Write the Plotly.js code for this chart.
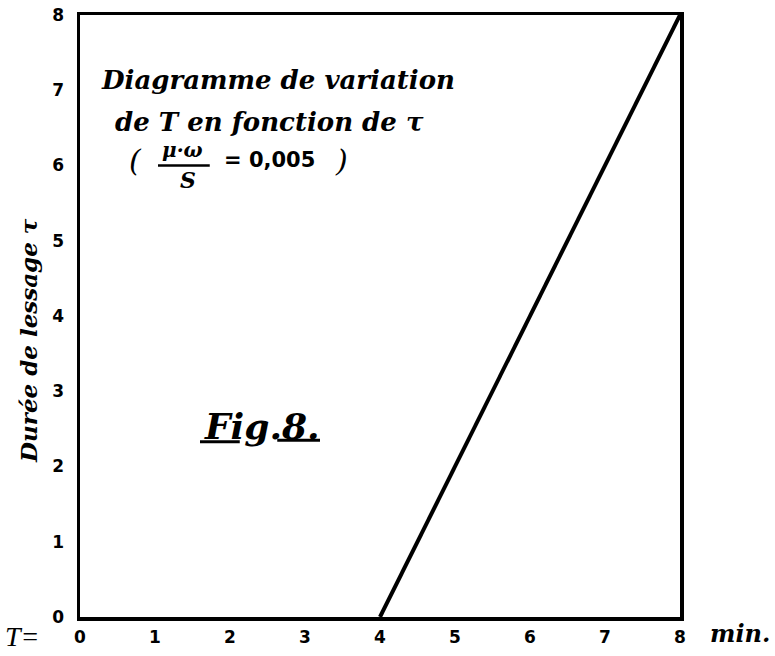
<!DOCTYPE html>
<html>
<head>
<meta charset="utf-8">
<script src="https://cdn.plot.ly/plotly-3.0.1.min.js"></script>
<style>
  html, body { margin: 0; padding: 0; background: #fff; }
  #chart { width: 775px; height: 656px; }
</style>
</head>
<body>
<div id="chart"></div>
<script>
// Washing time tau (vertical) against cycle time T (horizontal), mu*omega/S = 0.005
const tauValues = [0, 8];      // Durée de lessage τ
const TValues = [4, 8];        // T (min)
const tickVals = [0, 1, 2, 3, 4, 5, 6, 7, 8];
const tickText = ['0', '1', '2', '3', '4', '5', '6', '7', '8'];

const hand = { family: 'DejaVu Serif', color: '#000', style: 'italic', weight: 'bold' };
const font = (size, extra) => Object.assign({}, hand, { size: size }, extra || {});

const trace = {
  x: TValues,
  y: tauValues,
  mode: 'lines',
  line: { color: '#000', width: 4 },
  hoverinfo: 'skip',
  showlegend: false
};

const axisBase = {
  range: [0, 8],
  tickvals: tickVals,
  ticktext: tickText,
  showgrid: false,
  zeroline: false,
  showline: true,
  mirror: true,
  linecolor: '#000',
  linewidth: 3.5,
  ticks: '',
  tickfont: { family: 'DejaVu Sans', size: 17, color: '#000', weight: 'bold' },
  fixedrange: true
};

const ann = (x, y, text, f, extra) => Object.assign({
  x: x, y: y, xref: 'x', yref: 'y', text: text, showarrow: false,
  font: f, xanchor: 'center', yanchor: 'middle'
}, extra || {});

const layout = {
  width: 775,
  height: 656,
  margin: { l: 80, r: 95, t: 15, b: 39 },
  paper_bgcolor: '#fff',
  plot_bgcolor: '#fff',
  xaxis: Object.assign({}, axisBase, { ticklabelstandoff: 2 }),
  yaxis: Object.assign({}, axisBase, { ticklabelstandoff: 9 }),
  annotations: [
    ann(2.64, 7.14, 'Diagramme de variation', font(26)),
    ann(2.53, 6.58, 'de T en fonction de τ', font(26)),
    ann(0.74, 6.07, '(', font(30, { weight: 'normal' })),
    ann(1.37, 6.21, 'μ·ω', font(20)),
    ann(1.44, 5.81, 'S', font(22)),
    ann(2.53, 6.07, '= 0,005', font(21, { family: 'DejaVu Sans', style: 'normal' })),
    ann(3.49, 6.07, ')', font(30, { weight: 'normal' })),
    ann(2.43, 2.54, 'Fig.8.', font(36)),
    {
      x: -0.087, y: 0.46, xref: 'paper', yref: 'paper', showarrow: false,
      text: 'Durée de lessage τ', textangle: -90, font: font(23),
      xanchor: 'center', yanchor: 'middle'
    },
    {
      x: -0.097, y: -0.032, xref: 'paper', yref: 'paper', showarrow: false,
      text: 'T=', font: font(28, { family: 'Liberation Serif', weight: 'normal' }),
      xanchor: 'center', yanchor: 'middle'
    },
    {
      x: 1.1, y: -0.028, xref: 'paper', yref: 'paper', showarrow: false,
      text: 'min.', font: font(24),
      xanchor: 'center', yanchor: 'middle'
    }
  ],
  shapes: [
    // fraction bar
    { type: 'line', xref: 'x', yref: 'y', x0: 1.04, x1: 1.73, y0: 6.0, y1: 6.0,
      line: { color: '#000', width: 2.5 } },
    // underlines of the figure label
    { type: 'line', xref: 'x', yref: 'y', x0: 1.6, x1: 2.13, y0: 2.33, y1: 2.33,
      line: { color: '#000', width: 3 } },
    { type: 'line', xref: 'x', yref: 'y', x0: 2.63, x1: 3.2, y0: 2.35, y1: 2.35,
      line: { color: '#000', width: 3 } }
  ]
};

Plotly.newPlot('chart', [trace], layout, { staticPlot: true, displayModeBar: false });
</script>
</body>
</html>
